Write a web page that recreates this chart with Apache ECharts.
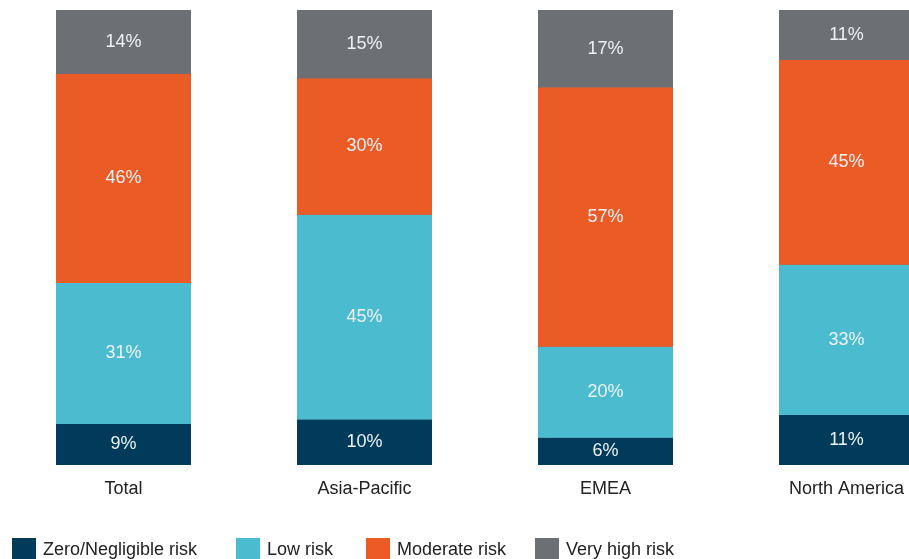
<!DOCTYPE html>
<html>
<head>
<meta charset="utf-8">
<script src="https://cdn.jsdelivr.net/npm/echarts@6/dist/echarts.min.js"></script>
<style>
  html, body { margin: 0; padding: 0; background: #fff; }
  #chart { width: 909px; height: 559px; }
</style>
</head>
<body>
<div id="chart"></div>
<script>
// Risk distribution by region (percent of respondents)
const regions = ['Total', 'Asia-Pacific', 'EMEA', 'North America'];
const zeroRisk = [9, 10, 6, 11];
const lowRisk = [31, 45, 20, 33];
const moderateRisk = [46, 30, 57, 45];
const veryHighRisk = [14, 15, 17, 11];

const seriesNames = ['Zero/Negligible risk', 'Low risk', 'Moderate risk', 'Very high risk'];
const seriesData = [zeroRisk, lowRisk, moderateRisk, veryHighRisk];
const colors = ['#003b5c', '#4bbccf', '#eb5b26', '#6c7074'];

const FONT = 'Liberation Sans';

const chart = echarts.init(document.getElementById('chart'), null, { renderer: 'canvas' });

// one legend per entry so each swatch sits at its own spot on the bottom line
const legendLeft = [12, 236, 366, 535];
const legends = seriesNames.map((name, i) => ({
  data: [name],
  left: legendLeft[i],
  top: 538,
  padding: 0,
  itemWidth: 24,
  itemHeight: 24,
  itemGap: 8,
  icon: 'rect',
  selectedMode: false,
  textStyle: { fontFamily: FONT, fontSize: 18, color: '#222', padding: [2, 0, 0, 2] }
}));

chart.setOption({
  animation: false,
  color: colors,
  legend: legends,
  // the plot runs past the right edge, so the last bar is clipped by the canvas
  grid: { left: 3, width: 964, top: 10, bottom: 94, outerBoundsMode: 'none', containLabel: false },
  xAxis: {
    type: 'category',
    data: regions,
    axisLine: { show: false },
    axisTick: { show: false },
    axisLabel: { fontFamily: FONT, fontSize: 18, color: '#222', margin: 15 }
  },
  yAxis: {
    type: 'value',
    min: 0,
    max: 100,
    show: false
  },
  series: seriesNames.map((name, i) => ({
    name,
    type: 'bar',
    stack: 'risk',
    barWidth: 135,
    data: seriesData[i],
    // a dark column behind each stack keeps the joins between segments from showing white
    showBackground: i === 0,
    backgroundStyle: { color: '#5f6f78' },
    itemStyle: { color: colors[i] },
    label: {
      show: true,
      position: 'inside',
      formatter: '{c}%',
      fontFamily: FONT,
      fontSize: 18,
      color: '#eef2f4'
    }
  }))
});
</script>
</body>
</html>
